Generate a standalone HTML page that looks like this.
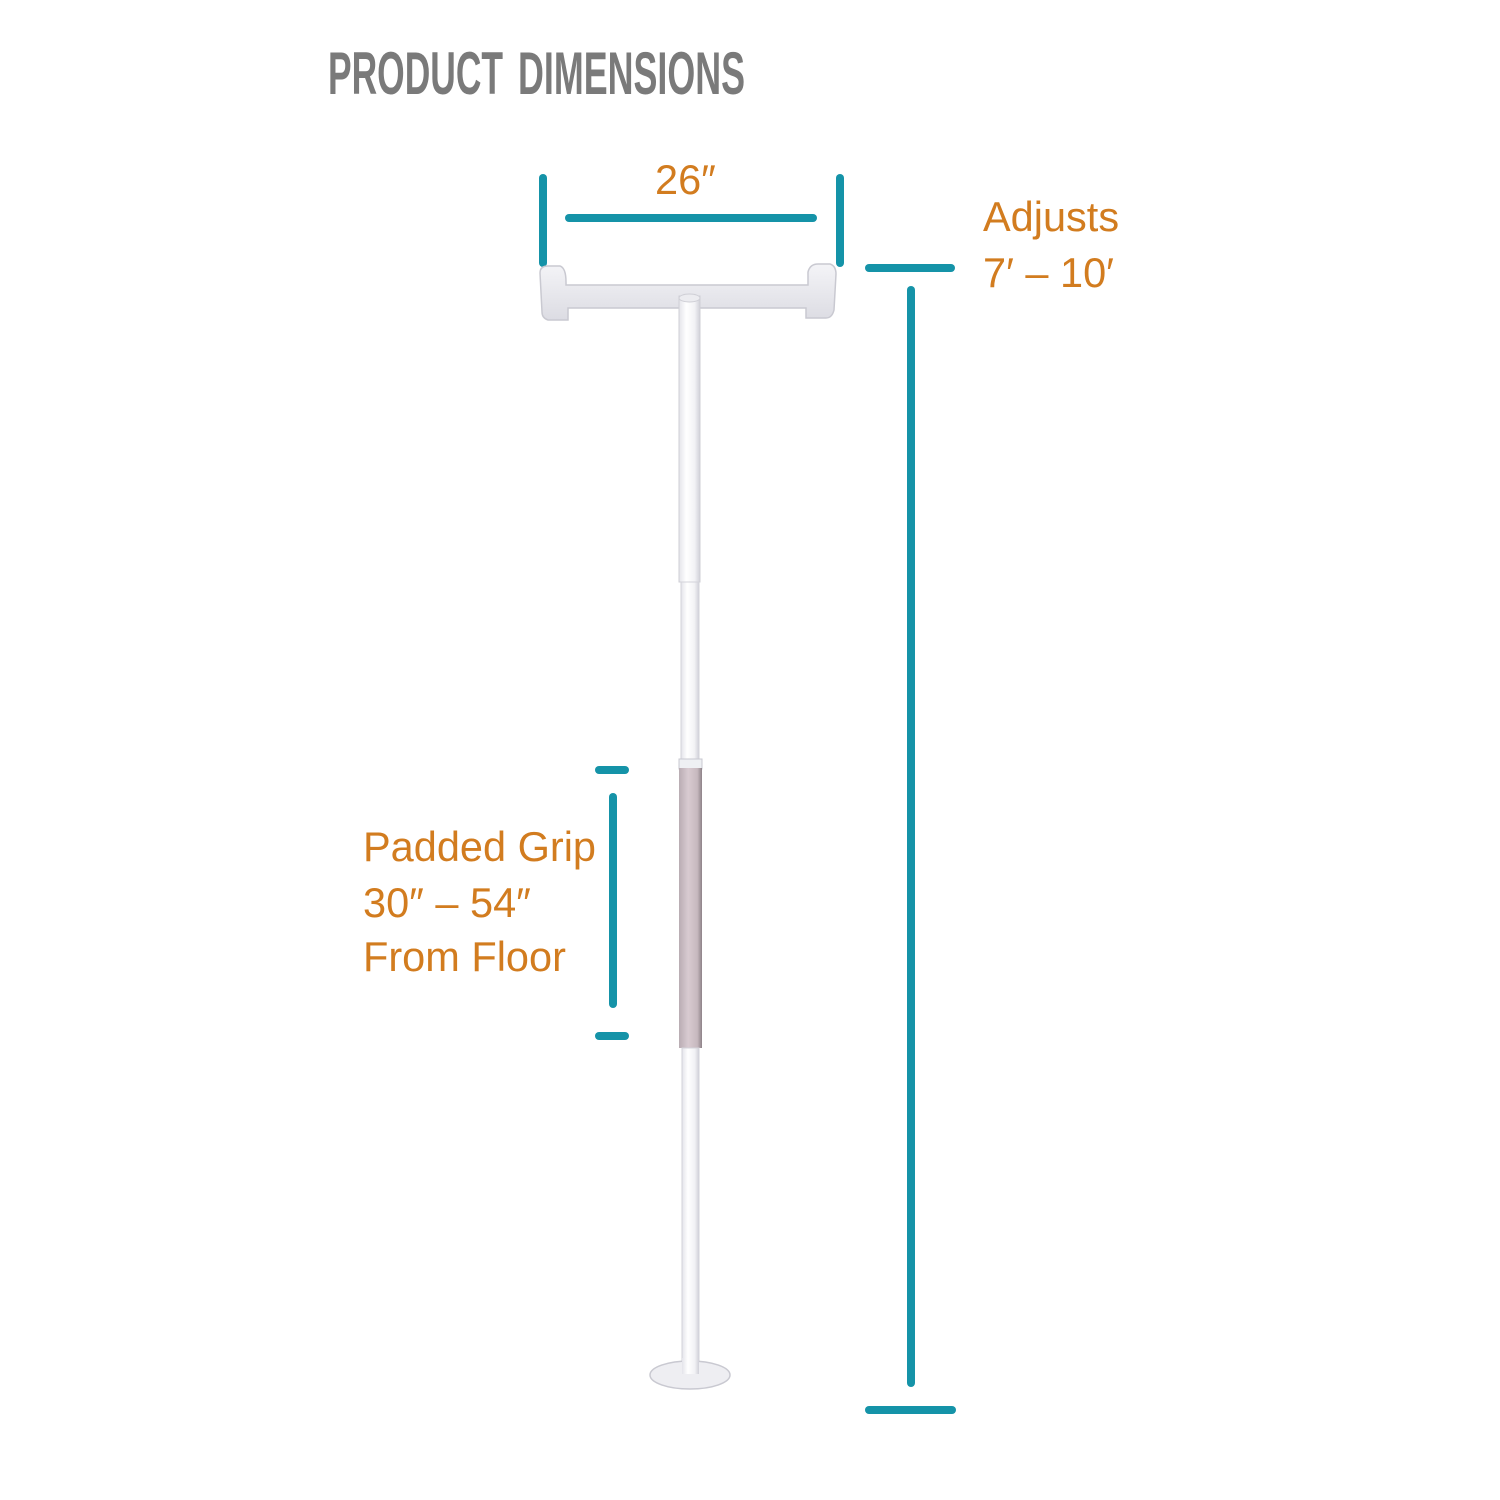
<!DOCTYPE html>
<html><head><meta charset="utf-8"><style>
html,body{margin:0;padding:0;background:#fff;}
svg{display:block}
</style></head><body>
<svg width="1500" height="1500" viewBox="0 0 1500 1500" xmlns="http://www.w3.org/2000/svg">
<defs>
<linearGradient id="pole" x1="0" x2="1" y1="0" y2="0">
<stop offset="0" stop-color="#e4e4ea"/><stop offset="0.35" stop-color="#ffffff"/><stop offset="0.75" stop-color="#f2f2f5"/><stop offset="1" stop-color="#d0d0d8"/>
</linearGradient>
<linearGradient id="grip" x1="0" x2="1" y1="0" y2="0">
<stop offset="0" stop-color="#b9acb3"/><stop offset="0.4" stop-color="#d8cbd1"/><stop offset="0.8" stop-color="#c6b8be"/><stop offset="1" stop-color="#8e8288"/>
</linearGradient>
<linearGradient id="bar" x1="0" x2="0" y1="0" y2="1">
<stop offset="0" stop-color="#f4f4f7"/><stop offset="1" stop-color="#dcdce3"/>
</linearGradient>
</defs>
<text x="328" y="94" font-family="Liberation Sans, sans-serif" font-weight="bold" font-size="60" fill="#7a7a7a" textLength="175" lengthAdjust="spacingAndGlyphs">PRODUCT</text>
<text x="518" y="94" font-family="Liberation Sans, sans-serif" font-weight="bold" font-size="60" fill="#7a7a7a" textLength="227" lengthAdjust="spacingAndGlyphs">DIMENSIONS</text>

<g stroke="#1593a8" stroke-width="8" stroke-linecap="round" fill="none">
<line x1="543" y1="178" x2="543" y2="263"/>
<line x1="840" y1="178" x2="840" y2="263"/>
<line x1="569" y1="218" x2="813" y2="218"/>
<line x1="869" y1="268" x2="951" y2="268"/>
<line x1="911" y1="290" x2="911" y2="1383"/>
<line x1="869" y1="1410" x2="952" y2="1410"/>
<line x1="599" y1="770" x2="625" y2="770"/>
<line x1="613" y1="797" x2="613" y2="1004"/>
<line x1="599" y1="1036" x2="625" y2="1036"/>
</g>

<g font-family="Liberation Sans, sans-serif" font-size="41.5" fill="#d27c1f">
<text x="655" y="194">26″</text>
<text x="983" y="231">Adjusts</text>
<text x="983" y="287">7′ – 10′</text>
<text x="363" y="861">Padded Grip</text>
<text x="363" y="917">30″ – 54″</text>
<text x="363" y="971">From Floor</text>
</g>

<path d="M540 273 Q540 266 548 266 L560 266 Q566 268 566 282 L566 285 L808 285 L808 272 Q810 264 818 264 L830 264 Q836 266 836 274 L834 310 Q832 318 826 318 L806 318 L806 308 L568 308 L568 320 L548 320 Q542 318 542 312 Z" fill="url(#bar)" stroke="#c9c9d1" stroke-width="1.5"/>
<rect x="679" y="296" width="21" height="286" fill="url(#pole)" stroke="#cfcfd6" stroke-width="1"/>
<ellipse cx="689.5" cy="298" rx="10.5" ry="4" fill="#ececf0" stroke="#cfcfd6"/>
<rect x="681" y="582" width="18" height="178" fill="url(#pole)" stroke="#d3d3da" stroke-width="1"/>
<rect x="679" y="759" width="23" height="10" fill="#eef0f3" stroke="#c8c8d0" stroke-width="1"/>
<rect x="679" y="768" width="23" height="280" fill="url(#grip)"/>
<rect x="682" y="1048" width="17" height="320" fill="url(#pole)" stroke="#d3d3da" stroke-width="1"/>
<ellipse cx="690" cy="1375" rx="40" ry="14" fill="#eeeef2" stroke="#c9c9d1" stroke-width="1.5"/>
<rect x="682" y="1358" width="17" height="16" fill="url(#pole)"/>
</svg>
</body></html>
